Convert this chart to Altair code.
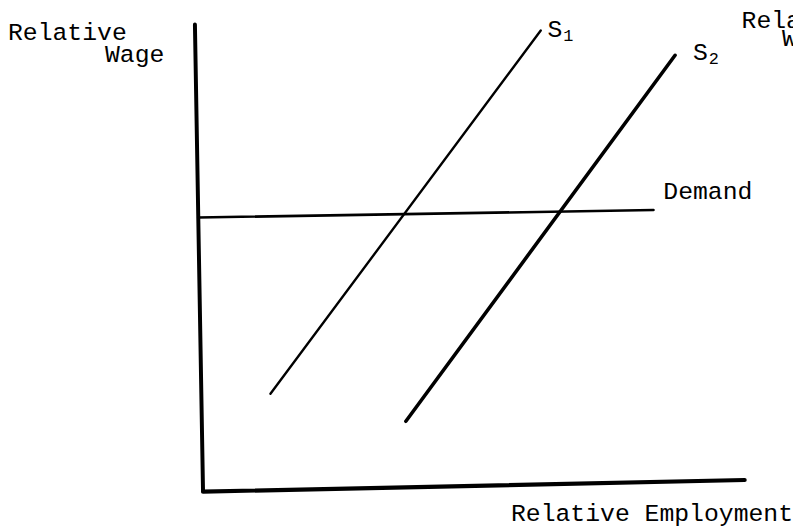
import altair as alt
import pandas as pd

# Conceptual diagram units: origin of axes at (0, 0), axes run to ~100
line_names = ["y_axis", "y_axis", "x_axis", "x_axis", "Demand", "Demand", "S1", "S1", "S2", "S2"]
line_x = [-1.5, 0.0, 0.0, 100.4, -0.9, 83.5, 12.5, 62.6, 37.6, 87.5]
line_y = [100.0, 0.0, -0.2, 2.3, 58.6, 60.2, 20.8, 98.7, 14.9, 93.4]
line_width = {"y_axis": 4.0, "x_axis": 4.2, "Demand": 2.6, "S1": 2.4, "S2": 3.6}

label_text = ["Relative", "Wage", "S", "1", "S", "2", "Demand", "Relative Employment", "Rela", "W"]
label_x = [-36.15, -18.17, 63.85, 66.79, 90.83, 93.76, 85.32, 109.36, 99.82, 107.34]
label_y = [96.60, 91.93, 97.24, 96.39, 92.36, 91.51, 62.63, -6.58, 99.15, 95.33]
label_size = [25, 25, 25, 17, 25, 17, 25, 25, 25, 25]
label_align = ["left", "left", "left", "left", "left", "left", "left", "right", "left", "left"]

lines = pd.DataFrame({"name": line_names, "x": line_x, "y": line_y})
labels = pd.DataFrame({"text": label_text, "x": label_x, "y": label_y,
                       "size": label_size, "align": label_align})

X_DOMAIN = [-36.147, 107.89]
Y_DOMAIN = [-6.157, 102.972]
xs = alt.Scale(domain=X_DOMAIN, nice=False, zero=False)
ys = alt.Scale(domain=Y_DOMAIN, nice=False, zero=False)

FONT = "Liberation Mono"

line_layers = []
for nm in ["y_axis", "x_axis", "Demand", "S1", "S2"]:
    line_layers.append(
        alt.Chart(lines[lines["name"] == nm]).mark_line(
            color="black", strokeWidth=line_width[nm], strokeCap="round", clip=False
        ).encode(
            x=alt.X("x:Q", scale=xs, axis=None),
            y=alt.Y("y:Q", scale=ys, axis=None),
        )
    )

text_layers = []
for al in ["left", "right"]:
    for sz in [25, 17]:
        sub = labels[(labels["align"] == al) & (labels["size"] == sz)]
        if len(sub) == 0:
            continue
        text_layers.append(
            alt.Chart(sub).mark_text(
                align=al, baseline="alphabetic", font=FONT, fontSize=sz,
                color="black", clip=False
            ).encode(
                x=alt.X("x:Q", scale=xs, axis=None),
                y=alt.Y("y:Q", scale=ys, axis=None),
                text="text:N",
            )
        )

chart = alt.layer(*line_layers, *text_layers).properties(
    width=785, height=514,
    padding={"left": 0, "top": 0, "right": 8, "bottom": 8},
    autosize=alt.AutoSizeParams(type="none"),
).configure(background="white", view=alt.ViewConfig(stroke=None))

chart.save("out.html", embed_options={"renderer": "svg", "actions": False})
